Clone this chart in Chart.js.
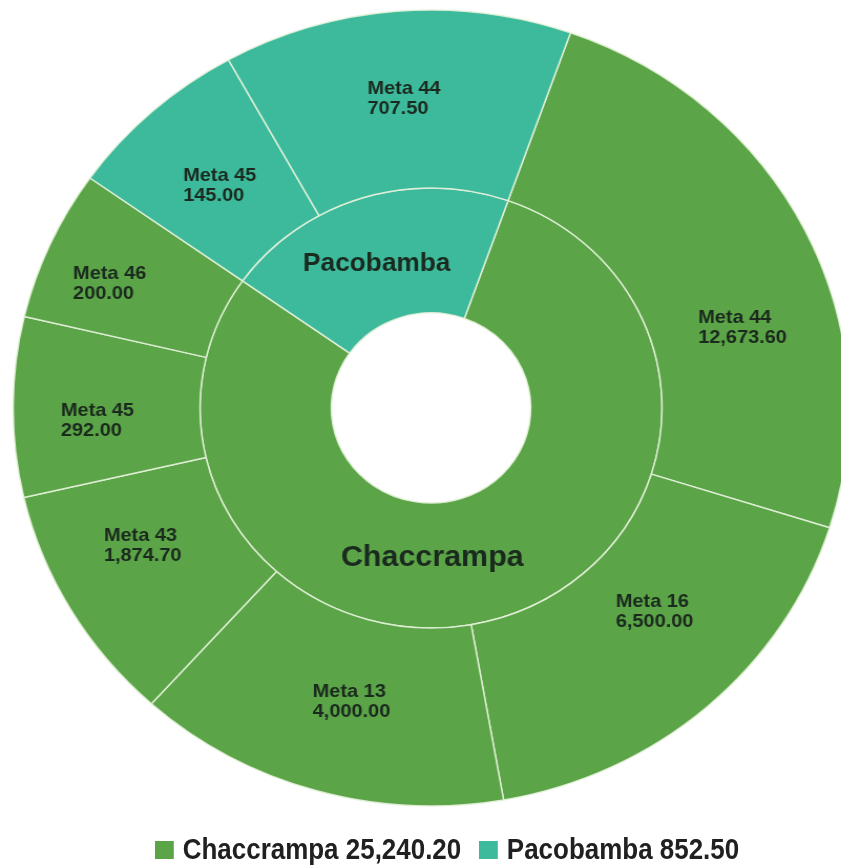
<!DOCTYPE html>
<html>
<head>
<meta charset="utf-8">
<script src="https://cdn.jsdelivr.net/npm/chart.js@4.4.1/dist/chart.umd.min.js"></script>
<style>
  html, body { margin: 0; padding: 0; background: #fff; overflow: hidden; }
  body { position: relative; width: 841px; height: 866px; }
  /* the reference ring is a little wider than tall */
  #wrap { width: 801px; height: 866px; transform: scaleX(1.05); transform-origin: 0 0; }
  #leyenda {
    position: absolute; left: 155px; top: 835px;
    display: flex; align-items: center; white-space: nowrap;
    font: bold 29px/29px "Liberation Sans", Arial, sans-serif; color: #202020;
    transform: scaleX(0.895); transform-origin: 0 0;
  }
  #leyenda .caja { width: 21px; height: 18px; margin-right: 10px; }
  #leyenda .item { display: flex; align-items: center; margin-right: 20px; }
</style>
</head>
<body>
<div id="wrap"><canvas id="chartMetas" width="801" height="866"></canvas></div>
<div id="leyenda"></div>
<script>
// Zonas (anillo interior)
const zonas = ['Chaccrampa', 'Pacobamba'];
const zonaTotales = [25240.20, 852.50];
// los arcos del original no son proporcionales a los montos,
// asi que el tamaño de cada arco (grados) se lee del dibujo
const zonaArco = [285.8, 74.2];

// Metas (anillo exterior), en sentido horario desde el borde Chaccrampa/Pacobamba
const metas = ['Meta 44', 'Meta 16', 'Meta 13', 'Meta 43', 'Meta 45', 'Meta 46', 'Meta 45', 'Meta 44'];
const metaZona = [0, 0, 0, 0, 0, 0, 1, 1];
const metaMontos = [12673.60, 6500.00, 4000.00, 1874.70, 292.00, 200.00, 145.00, 707.50];
const metaArco = [88, 62.5, 52, 35, 26.3, 22, 25.7, 48.5];

const COLORES = ['#5ba447', '#3dba9c'];
const TEXTO = '#1b2a1e';
const FAMILIA = '"Liberation Sans", Arial, sans-serif';

// donde va cada etiqueta dentro de su arco: [fraccion del barrido, fraccion del ancho del anillo]
const POS_METAS = [[0.63, 0.49], [0.42, 0.42], [0.47, 0.47], [0.61, 0.49], [0.41, 0.55], [0.40, 0.62], [0.49, 0.45], [0.50, 0.51]];
const POS_ZONAS = [[0.56, 0.44], [0.47, 0.46]];
const TAM_ZONAS = [29, 25];

const fmt = v => v.toLocaleString('en-US', { minimumFractionDigits: 2, maximumFractionDigits: 2 });

function puntoEnArco(arc, pos) {
    const p = arc.getProps(['x', 'y', 'startAngle', 'endAngle', 'innerRadius', 'outerRadius']);
    const a = p.startAngle + pos[0] * (p.endAngle - p.startAngle);
    const r = p.innerRadius + pos[1] * (p.outerRadius - p.innerRadius);
    return { x: p.x + r * Math.cos(a), y: p.y + r * Math.sin(a) };
}

const etiquetas = {
    id: 'etiquetas',
    afterDatasetsDraw(chart) {
        const ctx = chart.ctx;
        ctx.save();
        ctx.fillStyle = TEXTO;
        ctx.textBaseline = 'middle';

        // metas: dos lineas alineadas a la izquierda
        ctx.font = 'bold 19px ' + FAMILIA;
        ctx.textAlign = 'left';
        chart.getDatasetMeta(0).data.forEach((arc, i) => {
            const lineas = [metas[i], fmt(metaMontos[i])];
            const w = Math.max(...lineas.map(t => ctx.measureText(t).width));
            const c = puntoEnArco(arc, POS_METAS[i]);
            ctx.fillText(lineas[0], c.x - w / 2, c.y - 10);
            ctx.fillText(lineas[1], c.x - w / 2, c.y + 10);
        });

        // zonas: nombre centrado
        ctx.textAlign = 'center';
        chart.getDatasetMeta(1).data.forEach((arc, i) => {
            const c = puntoEnArco(arc, POS_ZONAS[i]);
            ctx.font = 'bold ' + TAM_ZONAS[i] + 'px ' + FAMILIA;
            ctx.fillText(zonas[i], c.x, c.y);
        });
        ctx.restore();
    }
};

new Chart(document.getElementById('chartMetas'), {
    type: 'doughnut',
    data: {
        labels: metas,
        datasets: [
            {
                label: 'Metas',
                data: metaArco,
                backgroundColor: metaZona.map(z => COLORES[z]),
                weight: 178
            },
            {
                label: 'Zonas',
                data: zonaArco,
                backgroundColor: COLORES,
                weight: 125
            }
        ]
    },
    options: {
        responsive: false,
        animation: false,
        rotation: 19.5,
        radius: 398,
        cutout: '23.87%',
        borderColor: 'rgba(228, 242, 218, 0.9)',
        borderWidth: 1.5,
        layout: { padding: { left: 20, top: 0, bottom: 50 } },
        plugins: {
            tooltip: { enabled: false },
            legend: { display: false }
        }
    },
    plugins: [etiquetas]
});

// leyenda con los totales por zona
document.getElementById('leyenda').innerHTML = zonas.map((z, i) =>
    `<div class="item"><div class="caja" style="background:${COLORES[i]}"></div><span>${z} ${fmt(zonaTotales[i])}</span></div>`
).join('');
</script>
</body>
</html>
